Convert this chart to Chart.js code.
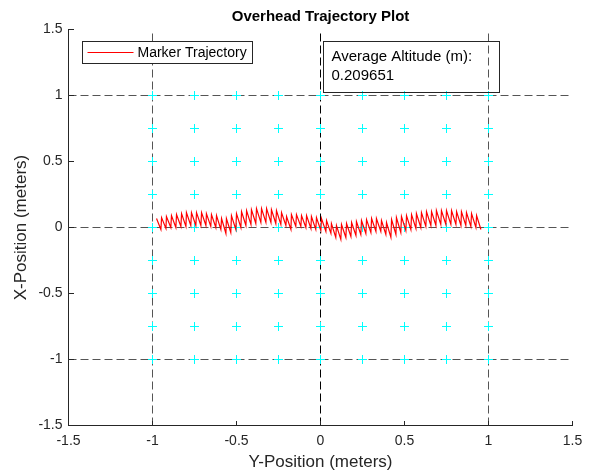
<!DOCTYPE html>
<html><head><meta charset="utf-8">
<script src="https://cdn.jsdelivr.net/npm/chart.js@4/dist/chart.umd.min.js"></script>
<style>html,body{margin:0;padding:0;background:#fff;}#c{display:block;}</style>
</head><body>
<canvas id="c" width="594" height="476"></canvas>
<script>
// ---- data ----
const chartTitle = 'Overhead Trajectory Plot';
const xLabel = 'Y-Position (meters)';
const yLabel = 'X-Position (meters)';
const seriesName = 'Marker Trajectory';
const annotationLines = ['Average Altitude (m):', '0.209651'];

const xTicks = [-1.5, -1, -0.5, 0, 0.5, 1, 1.5];
const yTicks = [-1.5, -1, -0.5, 0, 0.5, 1, 1.5];
const axisRange = [-1.5, 1.5];
const guideVals = [-1, 0, 1];
const markerVals = [-1, -0.75, -0.5, -0.25, 0, 0.25, 0.5, 0.75, 1];

// trajectory: upper (tip) and lower (base) points of each zig-zag stroke
const tipX = [-0.976,-0.946,-0.917,-0.887,-0.857,-0.827,-0.798,-0.768,-0.738,-0.708,-0.679,-0.649,-0.619,-0.589,-0.560,-0.530,-0.500,-0.470,-0.440,-0.411,-0.381,-0.351,-0.321,-0.292,-0.262,-0.232,-0.202,-0.173,-0.143,-0.113,-0.083,-0.054,-0.024,0.006,0.036,0.065,0.095,0.125,0.155,0.185,0.214,0.244,0.274,0.304,0.333,0.363,0.393,0.423,0.452,0.482,0.512,0.542,0.571,0.601,0.631,0.661,0.690,0.720,0.750,0.780,0.810,0.839,0.869,0.899,0.929];
const tipY = [0.068,0.075,0.083,0.090,0.098,0.105,0.113,0.113,0.113,0.113,0.105,0.098,0.090,0.068,0.068,0.090,0.105,0.120,0.128,0.135,0.143,0.143,0.143,0.135,0.128,0.113,0.083,0.098,0.098,0.090,0.090,0.083,0.075,0.068,0.053,0.030,0.015,0.023,0.030,0.038,0.045,0.053,0.060,0.068,0.068,0.053,0.038,0.060,0.075,0.083,0.090,0.098,0.105,0.113,0.120,0.120,0.128,0.128,0.128,0.128,0.120,0.120,0.113,0.105,0.090];
const baseX = [-0.950,-0.920,-0.891,-0.861,-0.831,-0.801,-0.772,-0.742,-0.712,-0.682,-0.653,-0.623,-0.593,-0.563,-0.534,-0.504,-0.474,-0.444,-0.414,-0.385,-0.355,-0.325,-0.295,-0.266,-0.236,-0.206,-0.176,-0.147,-0.117,-0.087,-0.057,-0.028,0.002,0.032,0.062,0.091,0.121,0.151,0.181,0.211,0.240,0.270,0.300,0.330,0.359,0.389,0.419,0.449,0.478,0.508,0.538,0.568,0.597,0.627,0.657,0.687,0.716,0.746,0.776,0.806,0.836,0.865,0.895,0.925,0.955];
const baseY = [-0.015,-0.007,0.000,0.000,0.008,0.008,0.015,0.015,0.015,0.015,0.008,0.000,-0.015,-0.045,-0.038,-0.015,0.000,0.015,0.023,0.030,0.038,0.038,0.038,0.030,0.023,0.015,-0.015,0.008,0.008,0.000,-0.007,-0.015,-0.023,-0.030,-0.045,-0.076,-0.090,-0.076,-0.068,-0.060,-0.053,-0.045,-0.038,-0.030,-0.030,-0.053,-0.075,-0.053,-0.038,-0.023,-0.015,-0.007,0.000,0.008,0.015,0.015,0.023,0.023,0.023,0.023,0.015,0.015,0.008,0.000,-0.015];

// ---- build datasets ----
const trajPts = [];
for (let i = 0; i < tipX.length; i++) {
  trajPts.push({x: tipX[i], y: tipY[i]});
  trajPts.push({x: baseX[i], y: baseY[i]});
}
const markerPts = [];
markerVals.forEach(xv => markerVals.forEach(yv => markerPts.push({x: xv, y: yv})));

const FONT = "'Liberation Sans', Arial, Helvetica, sans-serif";
const AX = '#262626';

const datasets = [
  {label: seriesName, data: trajPts, showLine: true, borderColor: '#FF0000', borderWidth: 1.2, pointRadius: 0, tension: 0},
  {label: 'grid markers', data: markerPts, showLine: false, pointStyle: 'cross', pointRadius: 4.5, borderColor: '#00FFFF', borderWidth: 1}
];
guideVals.forEach(v => {
  datasets.push({label: 'h' + v, data: [{x: axisRange[0], y: v}, {x: axisRange[1], y: v}], showLine: true, pointRadius: 0,
    borderColor: '#555555', borderWidth: 1, borderDash: [8, 4]});
});
guideVals.forEach(v => {
  datasets.push({label: 'v' + v, data: [{x: v, y: axisRange[0]}, {x: v, y: axisRange[1]}], showLine: true, pointRadius: 0,
    borderColor: v === 0 ? '#000000' : '#555555', borderWidth: 1, borderDash: [8, 4]});
});

// ---- plugins ----
const inwardTicks = {
  id: 'inwardTicks',
  afterDraw(chart) {
    const {ctx, chartArea: {left, bottom}, scales: {x, y}} = chart;
    const L = Math.round(left), B = Math.round(bottom);
    ctx.save();
    ctx.strokeStyle = AX; ctx.lineWidth = 1;
    ctx.beginPath();
    x.ticks.forEach(t => { const p = Math.floor(x.getPixelForValue(t.value)) + 0.5; ctx.moveTo(p, B); ctx.lineTo(p, B - 5); });
    y.ticks.forEach(t => { const p = Math.floor(y.getPixelForValue(t.value)) + 0.5; ctx.moveTo(L, p); ctx.lineTo(L + 5, p); });
    ctx.stroke();
    ctx.restore();
  }
};
const boxLegend = {
  id: 'boxLegend',
  afterDraw(chart) {
    const {ctx, chartArea: {left, top}} = chart;
    const ds = chart.data.datasets[0];
    ctx.save();
    ctx.font = '14px ' + FONT;
    const tw = ctx.measureText(ds.label).width;
    const bx = Math.round(left + 13) + 0.5, by = Math.round(top + 11) + 0.5;
    const bw = Math.round(55 + tw + 6), bh = 22;
    ctx.fillStyle = '#ffffff'; ctx.fillRect(bx, by, bw, bh);
    ctx.strokeStyle = AX; ctx.lineWidth = 1; ctx.strokeRect(bx, by, bw, bh);
    ctx.strokeStyle = ds.borderColor; ctx.lineWidth = 1; ctx.beginPath();
    ctx.moveTo(bx + 5, by + 11); ctx.lineTo(bx + 51, by + 11); ctx.stroke();
    ctx.fillStyle = '#000'; ctx.textBaseline = 'middle'; ctx.textAlign = 'left';
    ctx.fillText(ds.label, bx + 55, by + 11.5);
    ctx.restore();
  }
};
const textBox = {
  id: 'textBox',
  afterDraw(chart) {
    const {ctx, chartArea: {left, top}} = chart;
    ctx.save();
    const bx = Math.round(left + 254) + 0.5, by = Math.round(top + 11) + 0.5;
    const bw = 176, bh = 51;
    ctx.strokeStyle = AX; ctx.lineWidth = 1; ctx.strokeRect(bx, by, bw, bh);
    ctx.font = '15px ' + FONT; ctx.fillStyle = '#000'; ctx.textBaseline = 'middle'; ctx.textAlign = 'left';
    annotationLines.forEach((s, i) => ctx.fillText(s, bx + 8, by + 15 + i * 19));
    ctx.restore();
  }
};

new Chart(document.getElementById('c'), {
  type: 'scatter',
  data: {datasets},
  options: {
    responsive: false, animation: false, devicePixelRatio: 1,
    layout: {padding: {left: 0, right: 21.5, top: 0, bottom: 0}},
    plugins: {
      legend: {display: false},
      tooltip: {enabled: false},
      title: {display: true, text: chartTitle, fullSize: false, color: '#000',
        font: {family: FONT, size: 15, weight: 'bold'}, padding: {top: 7.5, bottom: 4}}
    },
    scales: {
      x: {
        type: 'linear', min: axisRange[0], max: axisRange[1],
        afterBuildTicks: s => { s.ticks = xTicks.map(v => ({value: v})); },
        afterFit: s => { s.height = 50.5; },
        grid: {display: false, drawTicks: false},
        border: {display: true, color: AX, width: 1},
        ticks: {color: AX, font: {family: FONT, size: 14}, padding: 7, maxRotation: 0, autoSkip: false,
          callback: v => String(v)},
        title: {display: true, text: xLabel, color: AX, font: {family: FONT, size: 17}, padding: {top: 0, bottom: 3}}
      },
      y: {
        type: 'linear', min: axisRange[0], max: axisRange[1],
        afterBuildTicks: s => { s.ticks = yTicks.map(v => ({value: v})); },
        afterFit: s => { s.width = 68.5; },
        grid: {display: false, drawTicks: false},
        border: {display: true, color: AX, width: 1},
        ticks: {color: AX, font: {family: FONT, size: 14}, padding: 6, autoSkip: false,
          callback: v => String(v)},
        title: {display: true, text: yLabel, color: AX, font: {family: FONT, size: 17}, padding: {top: 11, bottom: 0}}
      }
    }
  },
  plugins: [inwardTicks, boxLegend, textBox]
});
</script>
</body></html>
